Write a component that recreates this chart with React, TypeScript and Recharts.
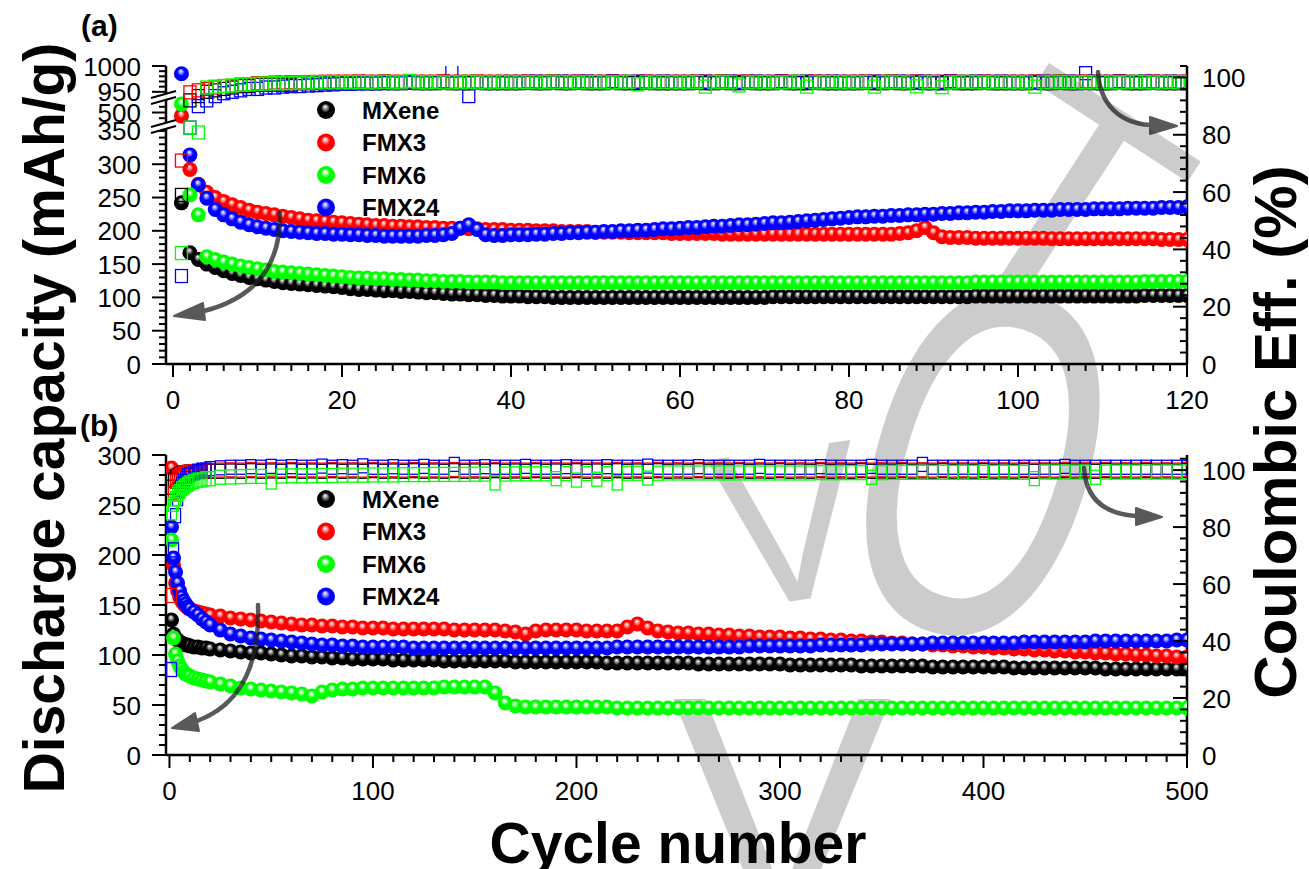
import React from "react";
import { ScatterChart, Scatter, XAxis, YAxis } from "recharts";

const FONT = "Arial, 'Liberation Sans', Helvetica, sans-serif";

const seriesNames = ["MXene", "FMX3", "FMX6", "FMX24"];
const seriesColors = ["#000000", "#ff0000", "#00ff00", "#0000ff"];
const ballHi = ["#9a9a9a", "#ff9a9a", "#b8ffb8", "#9a9aff"];
const drawOrder = [0, 1, 3, 2];

const range = (a: number, b: number, s: number) => {
  const out: number[] = [];
  for (let v = a; v <= b + 1e-9; v += s) out.push(Math.round(v * 1000) / 1000);
  return out;
};

// ---------- panel (a): 120 cycles ----------
const cyclesA = range(1, 120, 1);

const capMXeneA = [
  242, 167, 157, 150, 145, 140, 136, 133, 130, 128, 126, 124, 122, 121, 120, 119, 118, 117, 116, 115,
  113, 112, 112, 111, 110, 110, 109, 109, 108, 107, 107, 106, 105, 105, 104, 104, 103, 103, 102, 102,
  102, 101, 101, 101, 100, 100, 100, 100, 100, 100, 100, 100, 100, 100, 100, 100, 100, 100, 100, 100,
  100, 100, 100, 100, 100, 100, 100, 100, 100, 100, 101, 101, 101, 101, 101, 101, 101, 101, 101, 101,
  101, 101, 101, 101, 101, 101, 101, 101, 101, 101, 101, 101, 101, 101, 102, 102, 102, 102, 102, 102,
  102, 102, 102, 102, 102, 102, 102, 102, 102, 102, 102, 102, 102, 102, 103, 103, 103, 103, 103, 103,
];
const capFMX3A = [
  494, 292, 270, 258, 250, 244, 239, 235, 231, 228, 226, 224, 222, 220, 218, 216, 215, 214, 213, 212,
  211, 210, 209, 208, 208, 207, 207, 206, 206, 205, 205, 204, 204, 204, 203, 203, 202, 202, 202, 201,
  201, 201, 200, 200, 200, 199, 199, 199, 199, 198, 198, 198, 198, 197, 197, 197, 197, 197, 196, 196,
  196, 196, 196, 196, 195, 195, 195, 195, 195, 195, 195, 195, 195, 195, 195, 195, 195, 195, 195, 195,
  195, 195, 195, 195, 195, 196, 197, 200, 205, 197, 191, 190, 190, 190, 189, 189, 189, 189, 189, 189,
  189, 189, 189, 188, 188, 188, 188, 188, 188, 188, 188, 188, 188, 188, 188, 188, 187, 187, 187, 187,
];
const capFMX6A = [
  515, 254, 224, 161, 157, 153, 150, 147, 145, 143, 141, 139, 138, 137, 136, 135, 134, 133, 132, 131,
  130, 129, 129, 128, 128, 127, 127, 126, 126, 125, 125, 124, 124, 124, 123, 123, 123, 123, 122, 122,
  122, 122, 122, 122, 122, 122, 122, 122, 122, 122, 122, 122, 122, 122, 122, 122, 122, 122, 122, 122,
  122, 122, 122, 122, 122, 122, 122, 122, 122, 122, 122, 122, 122, 122, 122, 122, 122, 122, 122, 122,
  122, 122, 122, 122, 122, 122, 122, 122, 122, 122, 122, 122, 122, 122, 123, 123, 123, 123, 123, 123,
  123, 123, 123, 123, 123, 123, 123, 123, 123, 123, 123, 123, 123, 123, 124, 124, 124, 124, 124, 124,
];
const capFMX24A = [
  985, 314, 269, 249, 232, 224, 218, 213, 209, 206, 204, 202, 200, 199, 198, 197, 196, 196, 195, 195,
  194, 194, 193, 193, 192, 192, 192, 192, 192, 193, 193, 194, 196, 204, 209, 202, 194, 193, 193, 194,
  194, 194, 195, 195, 196, 196, 197, 197, 198, 198, 199, 199, 200, 200, 201, 201, 202, 203, 203, 204,
  205, 205, 206, 207, 207, 208, 209, 209, 210, 211, 212, 212, 213, 214, 215, 216, 217, 218, 219, 220,
  221, 221, 222, 222, 223, 223, 224, 224, 225, 225, 226, 226, 227, 227, 228, 228, 229, 229, 230, 230,
  230, 231, 231, 231, 232, 232, 232, 232, 233, 233, 233, 233, 234, 234, 234, 234, 235, 235, 235, 236,
];

const ceMXeneA = [
  59, 92, 93.5, 95, 95.5, 96, 96.5, 97, 97, 97.5, 97.5, 97.5, 97.5, 97.5, 98, 98, 98, 98, 98, 98,
  98, 98.2, 98, 98, 98.3, 98, 98, 98.2, 98, 98, 98, 98.3, 98, 98, 98, 98.2, 98, 98, 98, 98,
  98, 98.2, 98, 98, 98.3, 98, 98, 98.2, 98, 98, 98, 98.3, 98, 98, 98, 98.2, 98, 98, 98, 98,
  98, 98.2, 98, 98, 98.3, 98, 98, 98.2, 98, 98, 98, 98.3, 98, 98, 98, 98.2, 98, 98, 98, 98,
  98, 98.2, 98, 98, 98.3, 98, 98, 98.2, 98, 98, 98, 98.3, 98, 98, 98, 98.2, 98, 98, 98, 98,
  98, 98.2, 98, 98, 98.3, 98, 98, 98.2, 98, 98, 98, 98.3, 98, 98, 98, 98.2, 98, 98, 98, 98,
];
const ceFMX3A = [
  71, 94.8, 95.5, 96, 96.5, 97, 97, 97.5, 97.5, 98, 98, 98.2, 98.2, 98.3, 98.3, 98.4, 98.4, 98.5, 98.5, 98.5,
  98.5, 98.6, 98.5, 98.5, 98.7, 98.5, 98.5, 98.6, 98.5, 98.5, 98.5, 98.7, 98.5, 98.5, 98.5, 98.6, 98.5, 98.5, 98.5, 98.5,
  98.5, 98.6, 98.5, 98.5, 98.7, 98.5, 98.5, 98.6, 98.5, 98.5, 98.5, 98.7, 98.5, 98.5, 98.5, 98.6, 98.5, 98.5, 98.5, 98.5,
  98.5, 98.6, 98.5, 98.5, 98.7, 98.5, 98.5, 98.6, 98.5, 98.5, 98.5, 98.7, 98.5, 98.5, 98.5, 98.6, 98.5, 98.5, 98.5, 98.5,
  98.5, 98.6, 98.5, 98.5, 98.7, 98.5, 98.5, 98.6, 98.5, 98.5, 98.5, 98.7, 98.5, 98.5, 98.5, 98.6, 98.5, 98.5, 98.5, 98.5,
  98.5, 98.6, 98.5, 98.5, 98.7, 98.5, 98.5, 98.6, 98.5, 98.5, 98.5, 98.7, 98.5, 98.5, 98.5, 98.6, 98.5, 98.5, 98.5, 98.5,
];
const ceFMX6A = [
  38.7, 82.5, 80.8, 96.5, 96.8, 97, 97.2, 97.4, 97.6, 97.8, 97.9, 98, 98, 98.1, 98.2, 98.2, 98.3, 98.3, 98.3, 98.3,
  98.3, 98.4, 98.3, 98.3, 98.5, 98.3, 98.3, 98.8, 98.3, 98.3, 98.4, 98.3, 98.3, 98.3, 98.5, 98.3, 98.3, 98.3, 98.4, 98.3,
  98.3, 98.4, 98.3, 98.3, 98.5, 98.3, 98.3, 98.3, 98.3, 98.4, 98.3, 98.3, 98.3, 98.5, 97.6, 98.3, 98.3, 98.4, 98.3, 98.3,
  98.3, 98.4, 96.8, 98.3, 98.5, 98.3, 97.2, 98.3, 98.3, 98.4, 98.3, 98.3, 98.3, 98.5, 96.8, 98.3, 98.3, 98.4, 98.3, 98.3,
  98.3, 98.4, 96.8, 98.3, 98.5, 98.3, 98.3, 96.9, 98.3, 98.4, 96.6, 98.3, 98.3, 98.5, 98.3, 98.3, 98.3, 98.4, 98.3, 98.3,
  98.3, 96.8, 98.3, 98.3, 98.5, 98.3, 98.3, 98.3, 98.3, 98.4, 98.3, 98.3, 98.3, 98.5, 98.3, 98.3, 98.3, 98.4, 98.3, 98.3,
];
const ceFMX24A = [
  30.7, 82.5, 90, 92, 93.5, 94.5, 95, 95.5, 96, 96, 96.5, 96.5, 96.8, 97, 97, 97.2, 97.3, 97.5, 97.6, 97.8,
  97.8, 97.9, 98, 98, 98, 98.1, 98.1, 98.2, 98.2, 98.2, 98.2, 98.3, 102.5, 98.3, 93.5, 98.3, 98.3, 98.3, 98.4, 98.4,
  98.4, 98.4, 98.5, 98.4, 98.4, 98.5, 98.4, 98.4, 98.5, 98.4, 98.4, 98.5, 98.4, 98.4, 98.5, 98.4, 98.4, 98.5, 98.4, 98.4,
  98.4, 98.4, 98.5, 98.4, 98.4, 98.5, 98.4, 98.4, 98.5, 98.4, 98.4, 98.5, 98.4, 98.4, 98.5, 98.4, 98.4, 98.5, 98.4, 98.4,
  98.4, 98.4, 98.5, 98.4, 98.4, 98.5, 98.4, 98.4, 98.5, 98.4, 98.4, 98.5, 98.4, 98.4, 98.5, 98.4, 98.4, 98.5, 98.4, 98.4,
  98.4, 98.4, 98.5, 98.4, 98.4, 98.5, 98.4, 101.5, 98.5, 98.4, 98.4, 98.5, 98.4, 98.4, 98.5, 98.4, 98.4, 98.5, 98.4, 98.4,
];

// ---------- panel (b): 500 cycles, sampled ----------
const cyclesB = [...range(1, 10, 1), ...range(12, 20, 2), ...range(25, 500, 5)];

const capMXeneB = [
  135, 121, 117, 115, 113, 112, 111, 110, 110, 109, 108, 108, 107, 107, 106,
  105, 104, 103, 102, 102, 101, 100, 99, 99, 98, 98, 97, 97, 96, 96, 96,
  96, 95, 95, 95, 95, 95, 94, 94, 94, 94, 94, 94, 94, 93, 93, 93, 93, 93, 93, 93,
  93, 93, 92, 92, 92, 92, 92, 92, 92, 92, 92, 91, 91, 91, 91, 91, 91, 91, 91, 91,
  90, 90, 90, 90, 90, 90, 90, 89, 89, 89, 89, 89, 89, 89, 88, 88, 88, 88, 88, 88,
  88, 88, 87, 87, 87, 87, 87, 87, 87, 87, 87, 86, 86, 86, 86, 86, 86, 86, 86, 86,
];
const capFMX3B = [
  287, 190, 172, 164, 158, 154, 151, 149, 147, 146, 144, 143, 142, 141, 140,
  139, 137, 136, 135, 134, 133, 132, 131, 130, 130, 129, 129, 128, 128, 127, 127,
  127, 126, 126, 126, 126, 126, 126, 125, 125, 125, 125, 125, 124, 123, 121, 124, 125, 125, 125, 125,
  124, 124, 124, 124, 128, 131, 127, 124, 123, 122, 122, 121, 121, 120, 120, 119, 119, 118, 118, 118,
  117, 117, 116, 116, 115, 115, 114, 114, 113, 113, 112, 112, 111, 111, 110, 110, 109, 109, 108, 108,
  107, 107, 106, 106, 105, 105, 104, 104, 103, 103, 102, 102, 101, 101, 100, 100, 99, 99, 98, 98,
];
const capFMX6B = [
  215, 117, 101, 94, 89, 86, 83, 81, 80, 79, 77, 76, 75, 74, 73,
  71, 69, 67, 66, 65, 64, 63, 62, 61, 59, 63, 65, 66, 66, 67, 67,
  67, 67, 67, 67, 67, 67, 68, 68, 68, 68, 68, 62, 52, 49, 48, 48, 48, 48, 48, 48,
  48, 48, 48, 47, 47, 47, 47, 47, 47, 47, 47, 47, 47, 47, 47, 47, 47, 47, 47, 47,
  47, 47, 47, 47, 47, 47, 47, 47, 47, 47, 47, 47, 47, 47, 47, 47, 47, 47, 47, 47,
  47, 47, 47, 47, 47, 47, 47, 47, 47, 47, 47, 47, 47, 47, 47, 47, 47, 47, 47, 47,
];
const capFMX24B = [
  228, 197, 183, 172, 164, 158, 154, 151, 148, 146, 143, 140, 136, 133, 130,
  125, 121, 119, 117, 116, 115, 114, 113, 112, 111, 110, 110, 109, 109, 108, 108,
  108, 108, 108, 107, 107, 107, 107, 107, 107, 107, 107, 107, 107, 107, 107, 107, 107, 107, 107, 107,
  107, 107, 107, 108, 108, 108, 108, 108, 108, 108, 108, 108, 108, 108, 108, 108, 109, 109, 109, 109,
  109, 109, 109, 110, 110, 110, 110, 110, 111, 111, 111, 111, 111, 111, 112, 112, 112, 112, 112, 112,
  112, 112, 112, 113, 113, 113, 113, 113, 113, 113, 114, 114, 114, 114, 114, 114, 114, 114, 115, 115,
];

const ceMXeneB = [
  94, 96.5, 97.5, 98, 98.5, 98.8, 99, 99, 99.2, 99.3, 99.4, 99.5, 99.5, 99.6, 99.6,
  99.6, 99.7, 99.6, 99.8, 99.6, 99.7, 99.6, 99.8, 99.6, 99.7, 99.6, 99.8, 99.6, 99.7, 99.6, 99.8,
  99.6, 99.7, 99.6, 99.8, 99.6, 99.7, 99.6, 99.8, 99.6, 99.7, 99.6, 99.8, 99.6, 99.7, 99.6, 99.8, 99.6, 99.7, 99.6, 99.8,
  99.6, 99.7, 99.6, 99.8, 99.6, 99.7, 99.6, 99.8, 99.6, 99.7, 99.6, 99.8, 99.6, 99.7, 99.6, 99.8, 99.6, 99.7, 99.6, 99.8,
  99.6, 99.7, 99.6, 99.8, 99.6, 99.7, 99.6, 99.8, 99.6, 99.7, 99.6, 99.8, 99.6, 99.7, 99.6, 99.8, 99.6, 99.7, 99.6, 99.8,
  99.6, 99.7, 99.6, 99.8, 99.6, 99.7, 99.6, 99.8, 99.6, 99.7, 99.6, 99.8, 99.6, 99.7, 99.6, 99.8, 99.6, 99.7, 99.6, 99.8,
];
const ceFMX3B = [
  56, 92, 96, 97.5, 98, 98.5, 98.8, 99, 99.2, 99.3, 99.5, 99.6, 99.7, 99.8, 99.8,
  100, 100.1, 100, 100.2, 100, 100.1, 100, 100.2, 100, 100.1, 100, 100.2, 100, 100.1, 100, 100.2,
  100, 100.1, 100, 100.2, 100, 100.1, 100, 100.2, 100, 100.1, 100, 100.2, 100, 100.1, 100, 100.2, 100, 100.1, 100, 100.2,
  100, 100.1, 100, 100.2, 100, 100.1, 100, 100.2, 100, 100.1, 100, 100.2, 100, 100.1, 100, 100.2, 100, 100.1, 100, 100.2,
  100, 100.1, 100, 100.2, 100, 100.1, 100, 100.2, 100, 100.1, 100, 100.2, 100, 100.1, 100, 100.2, 100, 100.1, 100, 100.2,
  100, 100.1, 100, 100.2, 100, 100.1, 100, 100.2, 100, 100.1, 100, 100.2, 100, 100.1, 100, 100.2, 100, 100.1, 100, 100.2,
];
const ceFMX6B = [
  85, 88, 90, 91.5, 92.5, 93.5, 94, 94.5, 95, 95.5, 96, 96.5, 96.5, 97, 97,
  97.5, 97.6, 97.7, 97.8, 97.8, 95.8, 97.9, 98, 98, 98, 98.1, 98.1, 98.2, 98.2, 98.2, 98.3,
  98.3, 98.3, 98.4, 98.4, 98.4, 98.5, 98.5, 98.5, 98.5, 98.6, 98.6, 95.5, 98.6, 98.7, 98.7, 98.7, 98.7, 97, 98.8, 96.5,
  98.8, 96.8, 98.8, 95.5, 98.9, 98.9, 97.2, 98.9, 99, 99, 99, 99, 99, 99, 99, 99, 99, 99, 99, 99,
  99, 99, 99, 99.1, 99.1, 99.1, 99.1, 99.1, 97.5, 99.1, 99.2, 99.2, 99.2, 99.2, 99.2, 99.2, 99.2, 99.2, 99.2, 99.2,
  99.2, 99.2, 99.2, 99.2, 97, 99.3, 99.3, 99.3, 99.3, 99.3, 97.5, 99.3, 99.3, 99.3, 99.3, 99.3, 99.3, 99.3, 99.3, 99.3,
];
const ceFMX24B = [
  30, 72, 84, 90, 93, 95, 96, 97, 98, 98.5, 99, 99.5, 100, 100, 100.5,
  100.8, 101, 101, 101.2, 101, 101.3, 101, 101.2, 101, 101, 101.4, 101, 101.2, 101, 101.5, 101,
  101, 101.2, 101, 101, 101.3, 101, 101, 102, 101, 101, 101.2, 101, 101, 101, 101.3, 101, 101, 101, 101.2, 101,
  101, 101, 101.2, 101, 101, 101, 101.4, 101, 101, 101, 101, 101.2, 101, 101, 101, 101, 101, 101.3, 101, 101,
  101, 101, 101, 101.2, 101, 101, 101, 101, 101.3, 101, 101, 101, 101, 102, 101, 101, 101, 101, 101, 101,
  101, 101, 101, 101, 101, 101, 101, 101.3, 101, 101, 101, 101, 101, 101, 101, 101, 101, 101, 101, 101,
];

const capA = [capMXeneA, capFMX3A, capFMX6A, capFMX24A];
const ceA = [ceMXeneA, ceFMX3A, ceFMX6A, ceFMX24A];
const capB = [capMXeneB, capFMX3B, capFMX6B, capFMX24B];
const ceB = [ceMXeneB, ceFMX3B, ceFMX6B, ceFMX24B];

// ---------- ticks ----------
const majorXA = [0, 20, 40, 60, 80, 100, 120];
const ticksXA = range(0, 120, 2);
const majorXB = [0, 100, 200, 300, 400, 500];
const ticksXB = range(0, 500, 10);
const majorCapA = [0, 50, 100, 150, 200, 250, 300, 350, 500, 950, 1000];
const ticksCapA = [...range(0, 350, 10), 490, 500, 510, 950, 960, 970, 980, 990, 1000];
const majorCapB = [0, 50, 100, 150, 200, 250, 300];
const ticksCapB = range(0, 300, 10);
const majorCE = [0, 20, 40, 60, 80, 100];
const ticksCE = range(0, 104, 4);

// broken capacity axis of panel (a): value stops and where they sit (fraction of height)
const capStopsA = [0, 355, 478, 522, 940, 1000];
const capFracsA = [0, 0.7933, 0.802, 0.8859, 0.896, 1];

function brokenScale(stops: number[], fracs: number[], rng: number[] = [0, 1]): any {
  const s: any = (v: number) => {
    let i = 0;
    while (i < stops.length - 2 && v > stops[i + 1]) i++;
    const t = (v - stops[i]) / (stops[i + 1] - stops[i]);
    const f = fracs[i] + t * (fracs[i + 1] - fracs[i]);
    return rng[0] + f * (rng[1] - rng[0]);
  };
  s.domain = (d?: number[]) => (d === undefined ? [stops[0], stops[stops.length - 1]] : s);
  s.range = (r?: number[]) => {
    if (r === undefined) return rng;
    rng = [...r];
    return s;
  };
  s.copy = () => brokenScale(stops, fracs, [...rng]);
  s.ticks = () => stops;
  s.tickFormat = () => (v: number) => String(v);
  s.clamp = () => s;
  s.nice = () => s;
  return s;
}
const capScaleA = brokenScale(capStopsA, capFracsA);

const pts = (xs: number[], ys: number[]) => xs.map((x, i) => ({ x, y: ys[i] }));

const AXIS = { stroke: "#000", strokeWidth: 2.5 };
const TXT = { fontSize: 26, fontFamily: FONT, fill: "#000" };

const bottomTick = (majors: number[]) => (p: any) => {
  const v = p.payload.value;
  const m = majors.includes(v);
  return (
    <g>
      <line x1={p.x} x2={p.x} y1={p.y} y2={p.y + (m ? 13 : 7)} stroke="#000" strokeWidth={2} />
      {m && (
        <text x={p.x} y={p.y + 45} textAnchor="middle" {...TXT}>
          {v}
        </text>
      )}
    </g>
  );
};
const topTick = (majors: number[]) => (p: any) => {
  const m = majors.includes(p.payload.value);
  return <line x1={p.x} x2={p.x} y1={p.y} y2={p.y + (m ? 12 : 7)} stroke="#000" strokeWidth={2} />;
};
const leftTick = (majors: number[]) => (p: any) => {
  const v = p.payload.value;
  const m = majors.includes(v);
  return (
    <g>
      <line x1={p.x} x2={p.x - (m ? 14 : 7)} y1={p.y} y2={p.y} stroke="#000" strokeWidth={2} />
      {m && (
        <text x={p.x - 25} y={p.y + 9.5} textAnchor="end" {...TXT}>
          {v}
        </text>
      )}
    </g>
  );
};
const rightTick = (majors: number[]) => (p: any) => {
  const v = p.payload.value;
  const m = majors.includes(v);
  return (
    <g>
      <line x1={p.x} x2={p.x - (m ? 14 : 7)} y1={p.y} y2={p.y} stroke="#000" strokeWidth={2} />
      {m && (
        <text x={p.x + 15} y={p.y + 9.5} textAnchor="start" {...TXT}>
          {v}
        </text>
      )}
    </g>
  );
};

const ballShape = (i: number, r: number) => (p: any) =>
  <circle cx={p.cx} cy={p.cy} r={r} fill={`url(#ball${i})`} />;
const squareShape = (i: number, w: number, h: number) => (p: any) => (
  <rect x={p.cx - w / 2} y={p.cy - h / 2} width={w} height={h} fill="none" stroke={seriesColors[i]} strokeWidth={1.3} />
);

function BallDefs() {
  return (
    <svg width={0} height={0} style={{ position: "absolute" }}>
      <defs>
        {seriesColors.map((c, i) => (
          <radialGradient key={c} id={`ball${i}`} cx="0.5" cy="0.5" r="0.5" fx="0.45" fy="0.3">
            <stop offset="0" stopColor="#ffffff" />
            <stop offset="0.22" stopColor={ballHi[i]} />
            <stop offset="0.5" stopColor={c} />
            <stop offset="1" stopColor={c} />
          </radialGradient>
        ))}
      </defs>
    </svg>
  );
}

function PanelA() {
  return (
    <ScatterChart width={1309} height={420} margin={{ top: 66, right: 42, bottom: 16, left: 86 }}>
      <XAxis xAxisId="b" dataKey="x" type="number" domain={[-0.83, 120]} allowDataOverflow ticks={ticksXA}
        interval={0} tickSize={0} tickMargin={0} tickLine={false} axisLine={AXIS} height={40} tick={bottomTick(majorXA)} />
      <XAxis xAxisId="t" orientation="top" dataKey="x" type="number" domain={[-0.83, 120]} allowDataOverflow ticks={ticksXA}
        interval={0} tickSize={0} tickMargin={0} tickLine={false} axisLine={AXIS} height={0} tick={topTick(majorXA)} />
      <YAxis yAxisId="cap" dataKey="y" type="number" domain={[0, 1000]} scale={capScaleA} allowDataOverflow ticks={ticksCapA}
        interval={0} tickSize={0} tickMargin={0} tickLine={false} axisLine={AXIS} width={80} tick={leftTick(majorCapA)} />
      <YAxis yAxisId="ce" orientation="right" dataKey="y" type="number" domain={[0, 104]} allowDataOverflow ticks={ticksCE}
        interval={0} tickSize={0} tickMargin={0} tickLine={false} axisLine={AXIS} width={80} tick={rightTick(majorCE)} />
      {drawOrder.map((i) => (
        <Scatter key={`capA${i}`} xAxisId="b" yAxisId="cap" data={pts(cyclesA, capA[i])} shape={ballShape(i, 7.5)} isAnimationActive={false} />
      ))}
      {drawOrder.map((i) => (
        <Scatter key={`ceA${i}`} xAxisId="b" yAxisId="ce" data={pts(cyclesA, ceA[i])} shape={squareShape(i, 12, 13)} isAnimationActive={false} />
      ))}
    </ScatterChart>
  );
}

function PanelB() {
  return (
    <ScatterChart width={1309} height={422} margin={{ top: 66, right: 42, bottom: 16, left: 86 }}>
      <XAxis xAxisId="b" dataKey="x" type="number" domain={[-1.7, 500]} allowDataOverflow ticks={ticksXB}
        interval={0} tickSize={0} tickMargin={0} tickLine={false} axisLine={AXIS} height={40} tick={bottomTick(majorXB)} />
      <XAxis xAxisId="t" orientation="top" dataKey="x" type="number" domain={[-1.7, 500]} allowDataOverflow ticks={ticksXB}
        interval={0} tickSize={0} tickMargin={0} tickLine={false} axisLine={AXIS} height={0} tick={topTick(majorXB)} />
      <YAxis yAxisId="cap" dataKey="y" type="number" domain={[0, 300]} allowDataOverflow ticks={ticksCapB}
        interval={0} tickSize={0} tickMargin={0} tickLine={false} axisLine={AXIS} width={80} tick={leftTick(majorCapB)} />
      <YAxis yAxisId="ce" orientation="right" dataKey="y" type="number" domain={[0, 105.3]} allowDataOverflow ticks={ticksCE}
        interval={0} tickSize={0} tickMargin={0} tickLine={false} axisLine={AXIS} width={80} tick={rightTick(majorCE)} />
      {drawOrder.map((i) => (
        <Scatter key={`capB${i}`} xAxisId="b" yAxisId="cap" data={pts(cyclesB, capB[i])} shape={ballShape(i, 7.5)} isAnimationActive={false} />
      ))}
      {drawOrder.map((i) => (
        <Scatter key={`ceB${i}`} xAxisId="b" yAxisId="ce" data={pts(cyclesB, ceB[i])} shape={squareShape(i, 10, 14)} isAnimationActive={false} />
      ))}
    </ScatterChart>
  );
}

function Arrow({ d, head }: { d: string; head: string }) {
  return (
    <g opacity={0.75}>
      <path d={d} fill="none" stroke="#222" strokeWidth={4.5} strokeLinecap="round" />
      <polygon points={head} fill="#222" stroke="#222" strokeWidth={2} strokeLinejoin="round" />
    </g>
  );
}

function Legend({ top }: { top: number }) {
  return (
    <g>
      {seriesNames.map((n, i) => (
        <g key={n}>
          <circle cx={326} cy={top + i * 32.5} r={9} fill={`url(#ball${i})`} />
          <text x={362} y={top + i * 32.5 + 8.5} fontSize={24} fontWeight="bold" fontFamily={FONT} fill="#000">
            {n}
          </text>
        </g>
      ))}
    </g>
  );
}

function BreakMark({ y }: { y: number }) {
  return (
    <g>
      <polygon points={`151,${y + 3} 176,${y - 4} 176,${y + 2} 151,${y + 9}`} fill="#fff" />
      <line x1={151} y1={y + 3} x2={176} y2={y - 4} stroke="#000" strokeWidth={2} />
      <line x1={151} y1={y + 9} x2={176} y2={y + 2} stroke="#000" strokeWidth={2} />
    </g>
  );
}

function Overlay() {
  return (
    <svg width={1309} height={869} style={{ position: "absolute", left: 0, top: 0, pointerEvents: "none" }}>
      <text x={81} y={36} fontSize={30} fontWeight="bold" fontFamily={FONT}>(a)</text>
      <text x={80} y={436} fontSize={30} fontWeight="bold" fontFamily={FONT}>(b)</text>
      <BreakMark y={95} />
      <BreakMark y={124} />
      <Legend top={110} />
      <Legend top={499} />
      <Arrow d="M280,213 C281,262 258,297 204,311" head="174,316 203,303 205,320" />
      <Arrow d="M1098,72 C1100,105 1120,123 1150,125" head="1177,126 1150,117 1150,134" />
      <Arrow d="M258,605 C260,665 240,705 197,721" head="172,728 195,713 199,731" />
      <Arrow d="M1084,468 C1086,500 1105,514 1136,516" head="1162,517 1136,508 1136,525" />
      <text transform="translate(64,418) rotate(-90)" textAnchor="middle" fontSize={57} fontWeight="bold" fontFamily={FONT}>
        Discharge capacity (mAh/g)
      </text>
      <text transform="translate(1296,432) rotate(-90)" textAnchor="middle" fontSize={60} fontWeight="bold" fontFamily={FONT}>
        Coulombic Eff. (%)
      </text>
      <text x={678} y={863} textAnchor="middle" fontSize={57} fontWeight="bold" fontFamily={FONT}>
        Cycle number
      </text>
    </svg>
  );
}

// light grey watermark letters behind the plot (each letter tilted a little more along an arc)
function Watermark() {
  const grey = "#cccccc";
  return (
    <svg width={1309} height={869} style={{ position: "absolute", left: 0, top: 0 }}>
      <text transform="translate(782,926) rotate(0)" textAnchor="middle" fontSize={330} fontFamily={FONT} fill={grey}>V</text>
      <text transform="translate(800,600) rotate(-8)" textAnchor="middle" fontSize={220} fontFamily={FONT} fill={grey}>V</text>
      <text transform="translate(985,455) rotate(17) scale(0.62,1)" textAnchor="middle" y={180} fontSize={500} fontFamily={FONT} fill={grey}>O</text>
      <text transform="translate(1005,297) rotate(33)" textAnchor="middle" fontSize={320} fontFamily={FONT} fill={grey}>T</text>
    </svg>
  );
}

export default function App() {
  return (
    <div style={{ position: "absolute", left: 0, top: 0, width: 1309, height: 869, background: "#fff", overflow: "hidden" }}>
      <BallDefs />
      <Watermark />
      <div style={{ position: "absolute", left: 0, top: 0 }}>
        <PanelA />
      </div>
      <div style={{ position: "absolute", left: 0, top: 389 }}>
        <PanelB />
      </div>
      <Overlay />
    </div>
  );
}
